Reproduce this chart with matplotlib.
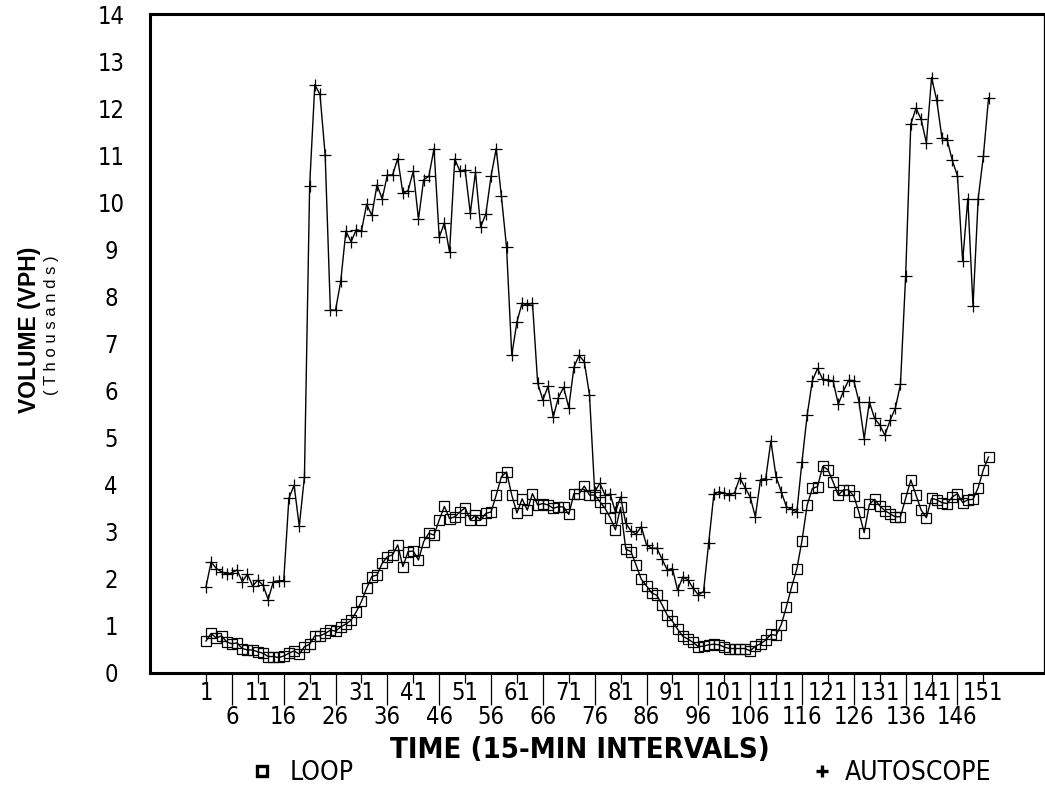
import matplotlib
matplotlib.use("Agg")
import matplotlib.pyplot as plt
import matplotlib.font_manager as fm
from matplotlib.lines import Line2D
import numpy as np

# ---------------- data ----------------
autoscope = [1.83, 2.36, 2.22, 2.15, 2.10, 2.13, 2.19, 1.94, 2.10, 1.85,
             1.97, 1.87, 1.56, 1.94, 1.96, 1.96, 3.71, 3.99, 3.12, 4.17,
             10.34, 12.50, 12.29, 11.00, 7.71, 7.71, 8.32, 9.39, 9.16, 9.42,
             9.39, 9.96, 9.72, 10.37, 10.07, 10.58, 10.58, 10.93, 10.19, 10.25,
             10.66, 9.64, 10.48, 10.55, 11.14, 9.26, 9.56, 8.94, 10.92, 10.66,
             10.69, 9.77, 10.64, 9.48, 9.75, 10.55, 11.14, 10.13, 9.04, 6.75,
             7.46, 7.86, 7.81, 7.86, 6.16, 5.80, 6.09, 5.44, 5.85, 6.07,
             5.64, 6.50, 6.75, 6.61, 5.91, 3.85, 4.03, 3.78, 3.80, 3.42,
             3.74, 3.18, 3.02, 2.95, 3.11, 2.72, 2.65, 2.65, 2.42, 2.19,
             2.22, 1.76, 2.04, 1.98, 1.80, 1.66, 1.73, 2.77, 3.80, 3.85,
             3.82, 3.78, 3.83, 4.15, 3.94, 3.74, 3.32, 4.11, 4.13, 4.93,
             4.17, 3.85, 3.53, 3.48, 3.42, 4.49, 5.48, 6.21, 6.47, 6.24,
             6.22, 6.21, 5.71, 5.99, 6.22, 6.21, 5.76, 4.98, 5.76, 5.41,
             5.27, 5.05, 5.37, 5.62, 6.13, 8.44, 11.66, 12.00, 11.76, 11.26,
             12.65, 12.17, 11.37, 11.33, 10.89, 10.56, 8.75, 10.08, 7.79, 10.08,
             10.98, 12.22]

loop = [0.68, 0.84, 0.74, 0.79, 0.66, 0.62, 0.64, 0.52, 0.49, 0.49,
        0.45, 0.42, 0.35, 0.35, 0.33, 0.36, 0.42, 0.47, 0.40, 0.56,
        0.61, 0.79, 0.79, 0.84, 0.91, 0.89, 0.98, 1.04, 1.12, 1.30,
        1.52, 1.80, 2.05, 2.08, 2.33, 2.47, 2.51, 2.72, 2.26, 2.58,
        2.59, 2.40, 2.79, 2.97, 2.93, 3.25, 3.54, 3.28, 3.32, 3.42,
        3.51, 3.25, 3.35, 3.25, 3.39, 3.42, 3.78, 4.17, 4.27, 3.78,
        3.40, 3.70, 3.46, 3.81, 3.57, 3.60, 3.57, 3.50, 3.53, 3.53,
        3.37, 3.81, 3.81, 3.97, 3.78, 3.78, 3.64, 3.50, 3.30, 3.04,
        3.52, 2.63, 2.58, 2.29, 1.99, 1.85, 1.70, 1.65, 1.45, 1.23,
        1.10, 0.93, 0.78, 0.72, 0.65, 0.56, 0.57, 0.60, 0.61, 0.60,
        0.55, 0.52, 0.52, 0.52, 0.52, 0.47, 0.57, 0.62, 0.70, 0.82,
        0.80, 1.03, 1.41, 1.83, 2.21, 2.81, 3.57, 3.92, 3.96, 4.39,
        4.32, 4.06, 3.78, 3.89, 3.89, 3.76, 3.41, 2.98, 3.58, 3.69,
        3.55, 3.45, 3.38, 3.32, 3.32, 3.71, 4.10, 3.78, 3.46, 3.30,
        3.71, 3.68, 3.62, 3.60, 3.74, 3.81, 3.62, 3.68, 3.69, 3.94,
        4.32, 4.59]

intervals = list(range(1, len(loop) + 1))
upper_ticks = list(range(1, 152, 10))     # 1, 11, ... 151
lower_ticks = list(range(6, 147, 10))     # 6, 16, ... 146
y_ticks = list(range(0, 15))

# ---------------- fonts ----------------
names = {f.name for f in fm.fontManager.ttflist}
if "Liberation Sans Narrow" in names:
    NARROW = dict(family=["Liberation Sans Narrow", "DejaVu Sans"])
else:
    NARROW = dict(family=["DejaVu Sans"], stretch="condensed")
BOLD = dict(family=["Liberation Sans", "DejaVu Sans"], weight="bold")

W, H = 1045, 786
fig = plt.figure(figsize=(W / 100, H / 100), dpi=100)
ax = fig.add_axes([150 / W, 1 - 673 / H, (1043.5 - 150) / W, (673 - 14) / H])

ax.plot(intervals, autoscope, color="black", lw=1.0, marker="+",
        markersize=9, markeredgewidth=0.9, zorder=3)
ax.plot(intervals, loop, color="black", lw=1.0, marker="s",
        markersize=7.6, markerfacecolor="none", markeredgewidth=0.9, zorder=3)

ax.set_xlim(-9.8, 162.6)
ax.set_ylim(0, 14)

for side in ("top", "bottom", "left"):
    ax.spines[side].set_linewidth(2.2)
ax.spines["right"].set_linewidth(0.9)

ax.set_yticks(y_ticks)
ax.set_yticklabels([str(v) for v in y_ticks], fontsize=17, ha="center", **NARROW)
ax.tick_params(axis="y", length=0, pad=28)

ax.set_xticks(upper_ticks)
ax.set_xticklabels([str(v) for v in upper_ticks], fontsize=17, **NARROW)
ax.set_xticks(lower_ticks, minor=True)
ax.set_xticklabels([str(v) for v in lower_ticks], minor=True, fontsize=17, **NARROW)
ax.tick_params(axis="x", which="major", length=7, width=0.9, pad=-1.5)
ax.tick_params(axis="x", which="minor", length=23, width=0.9, pad=0)

# axis titles
fig.text(580 / W, 1 - 750 / H, "TIME (15-MIN INTERVALS)", ha="center", va="center",
         fontsize=21, **({**NARROW, "weight": "bold"}))
fig.text(30 / W, 1 - 330 / H, "VOLUME (VPH)", rotation=90, ha="center", va="center",
         fontsize=16.5, **BOLD)
fig.text(52 / W, 1 - 325 / H, "( T h o u s a n d s )", rotation=90, ha="center",
         va="center", fontsize=12, family=["Liberation Sans", "DejaVu Sans"])

# legend
fig.add_artist(Line2D([262 / W], [1 - 771 / H], marker="s", markersize=7.5,
                      markerfacecolor="none", markeredgecolor="black",
                      markeredgewidth=2.4, transform=fig.transFigure))
fig.text(290 / W, 1 - 773 / H, "LOOP", ha="left", va="center", fontsize=19, **NARROW)
fig.add_artist(Line2D([822 / W], [1 - 771 / H], marker="+", markersize=9,
                      markeredgecolor="black", markeredgewidth=2.4,
                      transform=fig.transFigure))
fig.text(845 / W, 1 - 773 / H, "AUTOSCOPE", ha="left", va="center", fontsize=19, **NARROW)

fig.savefig("out.png", dpi=100)
